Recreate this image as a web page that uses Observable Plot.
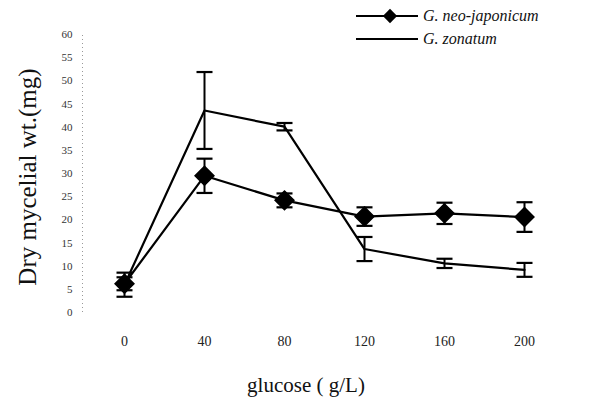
<!DOCTYPE html>
<html>
<head>
<meta charset="utf-8">
<script src="https://cdn.jsdelivr.net/npm/d3@7"></script>
<script src="https://cdn.jsdelivr.net/npm/@observablehq/plot@0.6"></script>
<style>
  html, body { margin: 0; padding: 0; background: #fff; }
  #wrap { position: relative; width: 593px; height: 401px; font-family: "Liberation Serif", "DejaVu Serif", serif; }
  #legend { position: absolute; left: 350px; top: 4px; }
  .lg-row { display: flex; align-items: center; height: 23px; }
  .lg-row span { font-family: "Liberation Serif", "DejaVu Serif", serif; font-style: italic; font-size: 16px; color: #111; margin-left: 4px; white-space: nowrap; }
  #ylab { position: absolute; left: 28px; top: 177px; transform: translate(-50%, -50%) rotate(-90deg); font-size: 25px; white-space: nowrap; color: #111; }
  #xlab { position: absolute; left: 306px; top: 385px; transform: translate(-50%, -50%); font-size: 21px; white-space: nowrap; color: #111; }
</style>
</head>
<body>
<div id="wrap">
  <div id="chart"></div>
  <div id="ylab">Dry mycelial wt.(mg)</div>
  <div id="xlab">glucose ( g/L)</div>
  <div id="legend"></div>
</div>
<script>
const glucose = [0, 40, 80, 120, 160, 200];
const seriesNames = ["G. neo-japonicum", "G. zonatum"];
const neoMean = [6.2, 29.5, 24.2, 20.7, 21.4, 20.6];
const neoErr  = [1.4, 3.7, 1.5, 2.0, 2.3, 3.2];
const zonMean = [6.0, 43.6, 40.1, 13.7, 10.6, 9.2];
const zonErr  = [2.6, 8.3, 0.8, 2.6, 1.0, 1.5];
const yTicks = [0, 5, 10, 15, 20, 25, 30, 35, 40, 45, 50, 55, 60];
const xTicks = [0, 40, 80, 120, 160, 200];

const rows = [];
glucose.forEach((g, i) => {
  rows.push({ series: seriesNames[0], x: g, y: neoMean[i], lo: neoMean[i] - neoErr[i], hi: neoMean[i] + neoErr[i] });
  rows.push({ series: seriesNames[1], x: g, y: zonMean[i], lo: zonMean[i] - zonErr[i], hi: zonMean[i] + zonErr[i] });
});
const neo = rows.filter(d => d.series === seriesNames[0]);
const zon = rows.filter(d => d.series === seriesNames[1]);

const cap = {
  draw(ctx, size) {
    const r = 8;
    ctx.moveTo(-r, 0);
    ctx.lineTo(r, 0);
  }
};

const chart = Plot.plot({
  width: 593,
  height: 401,
  marginLeft: 82,
  marginRight: 11,
  marginTop: 34,
  marginBottom: 89,
  style: { fontFamily: "Liberation Serif, DejaVu Serif, serif", background: "#fff", color: "#222" },
  x: { domain: [-21, 229], axis: null },
  y: { domain: [0, 60], axis: null },
  marks: [
    Plot.ruleX([0], { x: -21, y1: 0, y2: 60, stroke: "#999", strokeWidth: 1, strokeDasharray: "1,3" }),
    Plot.axisY({ ticks: yTicks, tickSize: 0, tickPadding: 10, fontSize: 11, tickFormat: d => d, fill: "#333", label: null }),
    Plot.axisX({ ticks: xTicks, tickSize: 0, tickPadding: 24, fontSize: 14, tickFormat: d => d, fill: "#222", anchor: "bottom", label: null }),
    Plot.ruleX(rows, { x: "x", y1: "lo", y2: "hi", stroke: "#000", strokeWidth: 2 }),
    Plot.dot(rows, { x: "x", y: "lo", symbol: cap, stroke: "#000", strokeWidth: 2.2, fill: "none" }),
    Plot.dot(rows, { x: "x", y: "hi", symbol: cap, stroke: "#000", strokeWidth: 2.2, fill: "none" }),
    Plot.line(zon, { x: "x", y: "y", stroke: "#000", strokeWidth: 2.2 }),
    Plot.line(neo, { x: "x", y: "y", stroke: "#000", strokeWidth: 2.2 }),
    Plot.dot(neo, { x: "x", y: "y", symbol: "diamond2", r: 8.5, fill: "#000", stroke: "#000" })
  ]
});
document.getElementById("chart").appendChild(chart);

// Legend (HTML rows with small SVG swatches)
const legend = d3.select("#legend");
seriesNames.forEach((name, i) => {
  const row = legend.append("div").attr("class", "lg-row");
  const sw = row.append("svg").attr("width", 69).attr("height", 18);
  sw.append("line").attr("x1", 6).attr("x2", 68).attr("y1", 9).attr("y2", 9).attr("stroke", "#000").attr("stroke-width", 2.2);
  if (i === 0) {
    sw.append("path").attr("d", d3.symbol(d3.symbolDiamond2, 130)()).attr("transform", "translate(40,9)").attr("fill", "#000");
  }
  row.append("span").text(name);
});
</script>
</body>
</html>
